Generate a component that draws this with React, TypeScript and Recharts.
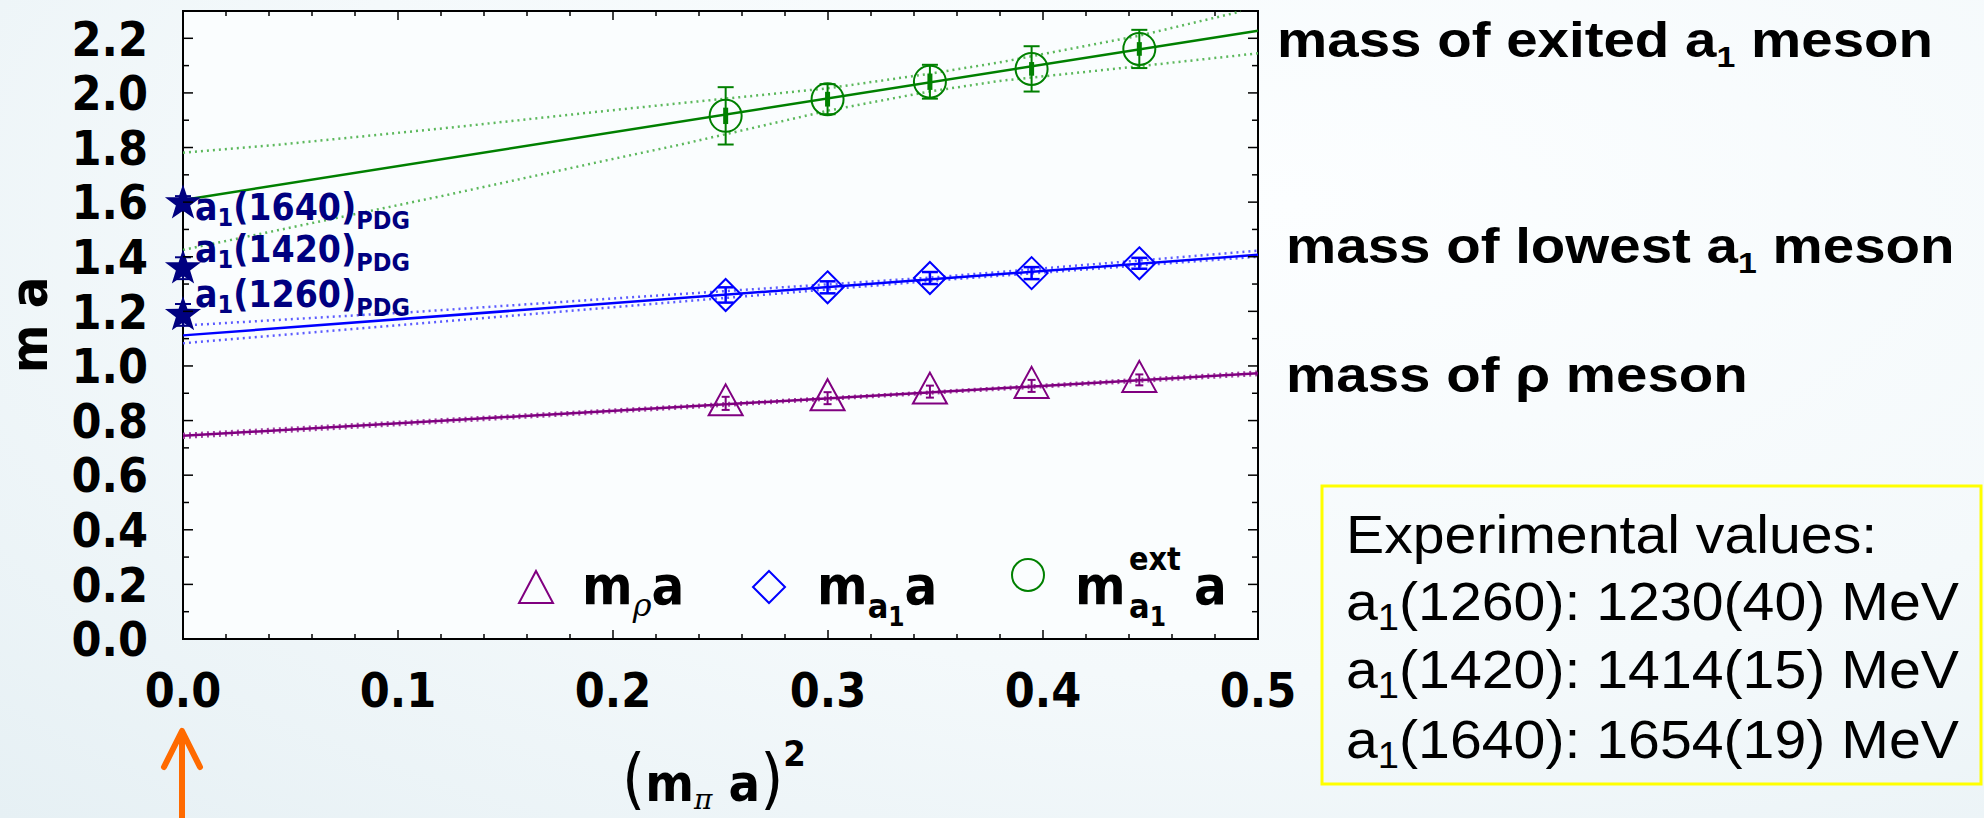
import React from 'react';
import { ComposedChart, Line, Scatter, XAxis, YAxis, ErrorBar } from 'recharts';

const W = 1984;
const H = 818;
const PLOT = { left: 183, right: 1258, top: 11, bottom: 639 };

const TICK_FONT = "'DejaVu Sans Condensed', 'DejaVu Sans', sans-serif";
const TEXT_FONT = "'Liberation Sans', Arial, sans-serif";
const GREEK_FONT = "'DejaVu Serif', serif";

const PURPLE = '#800080';
const BLUE = '#0000ff';
const GREEN = '#008000';
const NAVY = '#000080';

// (m_pi a)^2 of the five ensembles
const pionMassSq = [0.2524, 0.2998, 0.3474, 0.3947, 0.4448];

// m_rho a
const rhoMass = [0.863, 0.882, 0.906, 0.927, 0.949];
const rhoErr = [0.024, 0.022, 0.022, 0.022, 0.02];

// m_a1 a
const a1Mass = [1.26, 1.288, 1.322, 1.34, 1.376];
const a1Err = [0.028, 0.022, 0.022, 0.022, 0.02];

// m_a1^ext a (full error and statistical part)
const a1ExtMass = [1.916, 1.977, 2.041, 2.088, 2.161];
const a1ExtErr = [0.105, 0.055, 0.062, 0.083, 0.07];
const a1ExtStat = [0.03, 0.027, 0.03, 0.025, 0.025];

// PDG values placed at the chiral limit
const pdgNames = ['1640', '1420', '1260'];
const pdgMass = [1.596, 1.358, 1.187];
const pdgErr = [0.026, 0.04, 0.04];
const pdgLabelShift = [17, -6, -8];

// chiral fits (solid) and their error bands (dotted), [x, y]
const rhoFit = [[0, 0.744], [0.5, 0.973]];
const rhoBandHi = [[0, 0.751], [0.35, 0.907], [0.5, 0.979]];
const rhoBandLo = [[0, 0.737], [0.35, 0.9], [0.5, 0.967]];

const a1Fit = [[0, 1.112], [0.5, 1.407]];
const a1BandHi = [[0, 1.148], [0.11, 1.199], [0.194, 1.244], [0.35, 1.325], [0.5, 1.422]];
const a1BandLo = [[0, 1.083], [0.11, 1.156], [0.194, 1.211], [0.35, 1.313], [0.5, 1.4]];

const a1ExtFit = [[0, 1.608], [0.5, 2.228]];
const a1ExtBandHi = [
  [0, 1.781], [0.044, 1.81], [0.122, 1.871], [0.194, 1.932], [0.231, 1.962],
  [0.3, 2.017], [0.347, 2.07], [0.38, 2.112], [0.445, 2.21], [0.492, 2.298],
];
const a1ExtBandLo = [
  [0, 1.425], [0.044, 1.497], [0.122, 1.625], [0.194, 1.748], [0.231, 1.81],
  [0.3, 1.935], [0.347, 2.005], [0.38, 2.044], [0.445, 2.098], [0.5, 2.145],
];

const xTicks = [
  0, 0.02, 0.04, 0.06, 0.08, 0.1, 0.12, 0.14, 0.16, 0.18, 0.2, 0.22, 0.24,
  0.26, 0.28, 0.3, 0.32, 0.34, 0.36, 0.38, 0.4, 0.42, 0.44, 0.46, 0.48, 0.5,
];
const yTicks = [
  0, 0.1, 0.2, 0.3, 0.4, 0.5, 0.6, 0.7, 0.8, 0.9, 1.0, 1.1,
  1.2, 1.3, 1.4, 1.5, 1.6, 1.7, 1.8, 1.9, 2.0, 2.1, 2.2,
];

const pts = (arr: number[][]) => arr.map(([x, y]) => ({ x, y }));

const rhoData = pionMassSq.map((x, i) => ({ x, y: rhoMass[i], err: rhoErr[i] }));
const a1Data = pionMassSq.map((x, i) => ({ x, y: a1Mass[i], err: a1Err[i] }));
const a1ExtData = pionMassSq.map((x, i) => ({
  x,
  y: a1ExtMass[i],
  err: a1ExtErr[i],
  stat: a1ExtStat[i],
}));
const pdgData = pdgMass.map((y, i) => ({ x: 0, y, err: pdgErr[i], name: pdgNames[i] }));

const isMajor = (v: number, step: number) =>
  Math.abs(v / step - Math.round(v / step)) < 1e-6;

const XTick = (props: any) => {
  const { x, payload } = props;
  const v = payload.value;
  const major = isMajor(v, 0.1);
  const len = major ? 9 : 5;
  return (
    <g>
      <line x1={x} x2={x} y1={PLOT.bottom} y2={PLOT.bottom - len} stroke="#000" strokeWidth={1.5} />
      <line x1={x} x2={x} y1={PLOT.top} y2={PLOT.top + len} stroke="#000" strokeWidth={1.5} />
      {major && (
        <text x={x} y={707} textAnchor="middle" fontFamily={TICK_FONT} fontWeight="bold" fontSize={48} fill="#000">
          {v.toFixed(1)}
        </text>
      )}
    </g>
  );
};

const YTick = (props: any) => {
  const { y, payload } = props;
  const v = payload.value;
  const major = isMajor(v, 0.2);
  const len = major ? 10 : 6;
  return (
    <g>
      <line x1={PLOT.left} x2={PLOT.left + len} y1={y} y2={y} stroke="#000" strokeWidth={1.5} />
      <line x1={PLOT.right} x2={PLOT.right - len} y1={y} y2={y} stroke="#000" strokeWidth={1.5} />
      {major && (
        <text x={PLOT.left - 35} y={y} dy="0.36em" textAnchor="end" fontFamily={TICK_FONT} fontWeight="bold" fontSize={48} fill="#000">
          {v.toFixed(1)}
        </text>
      )}
    </g>
  );
};

const TriangleDot = (p: any) => (
  <path
    d={`M${p.cx},${p.cy - 19}L${p.cx + 17},${p.cy + 12}L${p.cx - 17},${p.cy + 12}Z`}
    fill="none"
    stroke={PURPLE}
    strokeWidth={2}
  />
);

const DiamondDot = (p: any) => (
  <path
    d={`M${p.cx},${p.cy - 16}L${p.cx + 16},${p.cy}L${p.cx},${p.cy + 16}L${p.cx - 16},${p.cy}Z`}
    fill="none"
    stroke={BLUE}
    strokeWidth={2}
  />
);

const CircleDot = (p: any) => (
  <circle cx={p.cx} cy={p.cy} r={16} fill="none" stroke={GREEN} strokeWidth={2} />
);

const starPath = (cx: number, cy: number, R: number, r: number) => {
  let d = '';
  for (let k = 0; k < 10; k++) {
    const rad = k % 2 === 0 ? R : r;
    const a = -Math.PI / 2 + (k * Math.PI) / 5;
    d += `${k === 0 ? 'M' : 'L'}${cx + rad * Math.cos(a)},${cy + rad * Math.sin(a)}`;
  }
  return d + 'Z';
};

const PdgStar = (p: any) => {
  const name = p.payload?.name ?? '';
  const shift = pdgLabelShift[pdgNames.indexOf(name)] ?? 0;
  return (
    <g>
      <path d={starPath(p.cx, p.cy, 19, 7.5)} fill={NAVY} />
      <text x={p.cx + 12} y={p.cy + shift} fill={NAVY} fontFamily={TICK_FONT} fontWeight="bold" fontSize={37}>
        a<tspan fontSize={25} dy={6}>1</tspan>
        <tspan dy={-6}>({name})</tspan>
        <tspan fontSize={25} dy={9}>PDG</tspan>
      </text>
    </g>
  );
};

const Overlay = () => (
  <svg width={W} height={H} style={{ position: 'absolute', left: 0, top: 0 }}>
    <rect x={PLOT.left} y={PLOT.top} width={PLOT.right - PLOT.left} height={PLOT.bottom - PLOT.top} fill="#fafdfe" stroke="#000" strokeWidth={2} />

    {/* axis titles */}
    <text x={47} y={325} transform="rotate(-90 47 325)" textAnchor="middle" fontFamily={TICK_FONT} fontWeight="bold" fontSize={52}>
      m a
    </text>
    <text x={622} y={801} fontFamily={TICK_FONT} fontWeight="bold" fontSize={52}>
      <tspan fontSize={66} fontWeight="normal">(</tspan>
      <tspan>m</tspan>
      <tspan fontFamily={GREEK_FONT} fontStyle="italic" fontWeight="normal" fontSize={28} dy={8}>π</tspan>
      <tspan dy={-8}> a</tspan>
      <tspan fontSize={66} fontWeight="normal">)</tspan>
      <tspan fontSize={36} dy={-35}>2</tspan>
    </text>

    {/* legend */}
    <path d="M536,571L553,603L519,603Z" fill="none" stroke={PURPLE} strokeWidth={2} />
    <text x={582} y={604} fontFamily={TICK_FONT} fontWeight="bold" fontSize={54}>
      m<tspan fontFamily={GREEK_FONT} fontStyle="italic" fontWeight="normal" fontSize={32} dy={12}>ρ</tspan>
      <tspan dy={-12}>a</tspan>
    </text>
    <path d="M769,571L785,587L769,603L753,587Z" fill="none" stroke={BLUE} strokeWidth={2} />
    <text x={817} y={604} fontFamily={TICK_FONT} fontWeight="bold" fontSize={54}>
      m<tspan fontSize={34} dy={14}>a</tspan>
      <tspan fontSize={26} dy={8}>1</tspan>
      <tspan dy={-22}>a</tspan>
    </text>
    <circle cx={1028} cy={575} r={16} fill="none" stroke={GREEN} strokeWidth={2} />
    <text x={1075} y={604} fontFamily={TICK_FONT} fontWeight="bold" fontSize={54}>m</text>
    <text x={1129} y={570} fontFamily={TICK_FONT} fontWeight="bold" fontSize={32}>ext</text>
    <text x={1129} y={618} fontFamily={TICK_FONT} fontWeight="bold" fontSize={34}>
      a<tspan fontSize={26} dy={8}>1</tspan>
    </text>
    <text x={1194} y={604} fontFamily={TICK_FONT} fontWeight="bold" fontSize={54}>a</text>

    {/* labels right of the frame */}
    <g transform="translate(1277,57) scale(1.13,1)">
      <text fontFamily={TEXT_FONT} fontWeight="bold" fontSize={50}>
        mass of exited a<tspan fontSize={30} dy={10}>1</tspan>
        <tspan dy={-10}> meson</tspan>
      </text>
    </g>
    <g transform="translate(1286,263) scale(1.13,1)">
      <text fontFamily={TEXT_FONT} fontWeight="bold" fontSize={50}>
        mass of lowest a<tspan fontSize={30} dy={10}>1</tspan>
        <tspan dy={-10}> meson</tspan>
      </text>
    </g>
    <g transform="translate(1286,392) scale(1.13,1)">
      <text fontFamily={TEXT_FONT} fontWeight="bold" fontSize={50}>
        mass of ρ meson
      </text>
    </g>

    {/* experimental values box */}
    <rect x={1322} y={486} width={659} height={298} fill="none" stroke="#ffff00" strokeWidth={3} />
    <g transform="translate(1346,553) scale(1.06,1)">
      <text fontFamily={TEXT_FONT} fontSize={54}>Experimental values:</text>
    </g>
    {[
      ['1260', '1230(40)', 620],
      ['1420', '1414(15)', 688],
      ['1640', '1654(19)', 758],
    ].map(([n, v, yy]) => (
      <g key={n as string} transform={`translate(1346,${yy}) scale(1.06,1)`}>
        <text fontFamily={TEXT_FONT} fontSize={54}>
          a<tspan fontSize={36} dy={10}>1</tspan>
          <tspan dy={-10}>({n}): {v} MeV</tspan>
        </text>
      </g>
    ))}

    {/* arrow to the chiral limit */}
    <path d="M182,818L182,732M164,767L182,731L200,767" fill="none" stroke="#ff6a00" strokeWidth={6} strokeLinecap="round" strokeLinejoin="round" />
  </svg>
);

export default function App() {
  return (
    <div
      style={{
        position: 'absolute',
        left: 0,
        top: 0,
        width: W,
        height: H,
        overflow: 'hidden',
        background: 'radial-gradient(ellipse at 65% 25%, #fcfeff 0%, #f4f9fb 55%, #e6f0f4 100%)',
      }}
    >
      <Overlay />
      <div style={{ position: 'absolute', left: 0, top: 0 }}>
        <ComposedChart width={W} height={H} margin={{ top: PLOT.top, right: W - PLOT.right, bottom: 119, left: 83 }}>
          <XAxis
            dataKey="x"
            type="number"
            domain={[0, 0.5]}
            ticks={xTicks}
            interval={0}
            height={60}
            axisLine={false}
            tickLine={false}
            tick={<XTick />}
          />
          <YAxis
            dataKey="y"
            type="number"
            domain={[0, 2.3]}
            ticks={yTicks}
            interval={0}
            width={100}
            axisLine={false}
            tickLine={false}
            tick={<YTick />}
          />

          <Line data={pts(rhoBandHi)} dataKey="y" stroke="#a040a0" strokeWidth={2.5} strokeDasharray="2 4" dot={false} activeDot={false} isAnimationActive={false} />
          <Line data={pts(rhoBandLo)} dataKey="y" stroke="#a040a0" strokeWidth={2.5} strokeDasharray="2 4" dot={false} activeDot={false} isAnimationActive={false} />
          <Line data={pts(rhoFit)} dataKey="y" stroke={PURPLE} strokeWidth={2.5} dot={false} activeDot={false} isAnimationActive={false} />

          <Line data={pts(a1BandHi)} dataKey="y" stroke="#5c5cff" strokeWidth={2.5} strokeDasharray="2 4" dot={false} activeDot={false} isAnimationActive={false} />
          <Line data={pts(a1BandLo)} dataKey="y" stroke="#5c5cff" strokeWidth={2.5} strokeDasharray="2 4" dot={false} activeDot={false} isAnimationActive={false} />
          <Line data={pts(a1Fit)} dataKey="y" stroke={BLUE} strokeWidth={2.5} dot={false} activeDot={false} isAnimationActive={false} />

          <Line data={pts(a1ExtBandHi)} dataKey="y" stroke="#5cb85c" strokeWidth={2.5} strokeDasharray="2 4" dot={false} activeDot={false} isAnimationActive={false} />
          <Line data={pts(a1ExtBandLo)} dataKey="y" stroke="#5cb85c" strokeWidth={2.5} strokeDasharray="2 4" dot={false} activeDot={false} isAnimationActive={false} />
          <Line data={pts(a1ExtFit)} dataKey="y" stroke={GREEN} strokeWidth={2.5} dot={false} activeDot={false} isAnimationActive={false} />

          <Scatter data={rhoData} dataKey="y" shape={TriangleDot} isAnimationActive={false}>
            <ErrorBar dataKey="err" direction="y" width={4} stroke={PURPLE} strokeWidth={2} />
          </Scatter>
          <Scatter data={a1Data} dataKey="y" shape={DiamondDot} isAnimationActive={false}>
            <ErrorBar dataKey="err" direction="y" width={8} stroke={BLUE} strokeWidth={2.5} />
          </Scatter>
          <Scatter data={a1ExtData} dataKey="y" shape={CircleDot} isAnimationActive={false}>
            <ErrorBar dataKey="err" direction="y" width={8} stroke={GREEN} strokeWidth={2} />
            <ErrorBar dataKey="stat" direction="y" width={0} stroke={GREEN} strokeWidth={5} />
          </Scatter>
          <Scatter data={pdgData} dataKey="y" shape={PdgStar} isAnimationActive={false}>
            <ErrorBar dataKey="err" direction="y" width={8} stroke={NAVY} strokeWidth={2} />
          </Scatter>
        </ComposedChart>
      </div>
    </div>
  );
}
